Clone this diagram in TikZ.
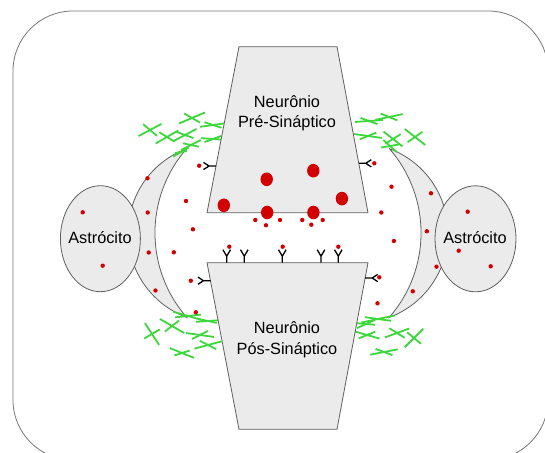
\documentclass[tikz,border=0pt]{standalone}
\usepackage{fontspec}
\setmainfont{Liberation Sans}
\definecolor{cellfill}{RGB}{235,235,235}
\definecolor{cellline}{RGB}{95,95,95}
\definecolor{boxgray}{RGB}{120,120,120}
\definecolor{fibergreen}{RGB}{60,215,60}
\definecolor{vesicle}{RGB}{210,0,0}
\tikzset{
  cell/.style={draw=cellline,line width=0.8bp,fill=cellfill},
  boxline/.style={draw=boxgray,line width=0.8bp},
  labeltext/.style={font=\fontsize{16.3bp}{20bp}\selectfont,text=black,inner sep=0pt,anchor=base},
  receptor/.style={draw=black,line width=1.3bp},
  fiberline/.style={draw=fibergreen,line width=1.8bp},
  smalldot/.style={fill=vesicle},
  bigdot/.style={fill=vesicle},
  pics/recup/.style={code={\draw[receptor] (0,0) -- (0,-6.5) -- (-3.8,-13) (0,-6.5) -- (3.8,-13);}},
  pics/recleft/.style={code={\draw[receptor] (0,0) -- (-7,0) -- (-12.5,-3.6) (-7,0) -- (-12.5,3.6);}},
  pics/recright/.style={code={\draw[receptor] (0,0) -- (7,0) -- (12.5,-3.6) (7,0) -- (12.5,3.6);}},
  pics/fiber/.style args={#1/#2/#3/#4}{code={
    \draw[fiberline] (#1:#2) -- (#1:-#2);
    \draw[fiberline] (#3:#4) -- (#3:-#4);}}
}
\begin{document}
\begin{tikzpicture}[x=1bp,y=-1bp]
\useasboundingbox (0,0) rectangle (545,453);

% outer frame
\begin{scope}
  \clip (0,0) rectangle (545,453);
  \draw[boxline,rounded corners=60bp] (13,11) rectangle (548,460);
\end{scope}

% astrocytic processes (crescents)
\path[cell] (186.8,148.6) arc[start angle=249.7,end angle=110.3,radius=90]
                          arc[start angle=138.7,end angle=221.3,radius=128] -- cycle;
\path[cell] (389.2,148.6) arc[start angle=-69.7,end angle=69.7,radius=90]
                          arc[start angle=41.3,end angle=-41.3,radius=128] -- cycle;

% astrocyte bodies
\path[cell] (100.4,238.7) ellipse[x radius=40,y radius=53];
\path[cell] (475.5,238.8) ellipse[x radius=40.5,y radius=53];

% glial fibres: centre x/y, first stroke angle/half-length, second stroke angle/half-length
\foreach \cx/\cy/\fa/\fl/\fb/\fm in {
    192/118/-23/14/30/9, 150/130/-28/13/40/9, 167/137/-30/13/32/9,
    185/135/-28/13/20/9, 213/125/-8/13/18/9, 213/139/4/12/-20/9,
    191/145/-27/11/12/8, 181/152/-30/9/-10/6,
    369/121/-4/14/20/9, 389/117/-12/14/22/9, 368/136/8/14/-22/9,
    393/139/38/12/-32/9, 415/137/38/13/-35/9, 390/146/42/9/-10/9,
    152/334/57/13/-30/9, 172/326/30/14/-38/9, 188/316/16/15/-6/13,
    200/335/8/14/-27/9, 208/345/-15/14/27/9, 182/353/22/13/-18/8,
    208/321/-4/12/12/9,
    378/319/-12/17/8/13, 367/335/16/13/-22/9, 397/333/-20/13/32/9,
    414/338/-45/13/40/9, 384/352/-11/14/20/9, 366/324/-25/10/5/9}
  \pic at (\cx,\cy) {fiber={\fa/\fl/\fb/\fm}};

% neurons
\path[cell] (239,46.7) -- (337,46.7) -- (368,212.7) -- (207,212.7) -- cycle;
\path[cell] (207,262.7) -- (368,262.7) -- (337,429.3) -- (239,429.3) -- cycle;

% labels
\node[labeltext] (preA)  at (287,107.5) {Neurônio};
\node[labeltext] (preB)  at (287,128)   {Pré-Sináptico};
\node[labeltext] (postA) at (287,333.5) {Neurônio};
\node[labeltext] (postB) at (287,354)   {Pós-Sináptico};
\node[labeltext] (astroL) at (100,244)  {Astrócito};
\node[labeltext] (astroR) at (475,244)  {Astrócito};

% receptors
\foreach \x in {226.7,244.3,282.3,321,338.3}
  \pic at (\x,262.7) {recup};
\pic at (216,166) {recleft};
\pic at (210.5,280.7) {recleft};
\pic at (358.8,163.3) {recright};
\pic at (365.2,278) {recright};

% synaptic vesicles
\foreach \p in {(266.7,179.3),(313.3,170.7),(223.8,205.3),(341.9,198.6),(267.2,212.5),(313.4,212.5)}
  \path[bigdot] \p ellipse[x radius=6.2,y radius=6.8];

% neurotransmitter molecules
\foreach \p in {(82.7,212.3),(102.7,265.7),
                (467.7,211.7),(458.7,250.7),(490.7,266.3),
                (147.5,178.3),(147.7,212.5),(148.7,252.5),(155.5,290.5),
                (431,193.3),(426.8,231.3),(436.5,266.7),(412.8,291.3),
                (199.2,165.7),(186,201),(192.9,229.3),(173.8,252.3),(190.8,280.7),(195.8,312.3),
                (374.3,163.3),(391.5,186.7),(381.3,212.5),(393.9,241),(379.3,277.3),(377.5,303.3),
                (255.3,220),(266,225.3),(280,220),(302.3,220),(311.3,224.7),(322.7,220),
                (229.3,246.7),(282.7,246.7),(338.3,246.7)}
  \path[smalldot] \p circle (2.2);
\end{tikzpicture}
\end{document}
